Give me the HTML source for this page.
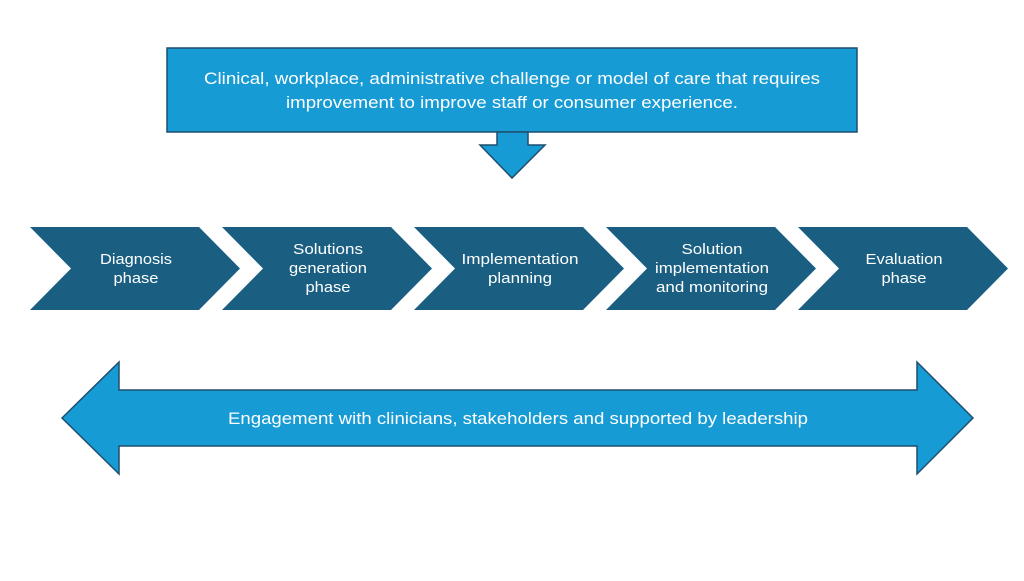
<!DOCTYPE html>
<html><head><style>
body{margin:0;width:1024px;height:576px;background:#fff;overflow:hidden}
svg text{font-family:"Liberation Sans",sans-serif;fill:#fff}
</style></head><body>
<svg width="1024" height="576" viewBox="0 0 1024 576">
<g fill="#169bd5" stroke="#1f4e6e" stroke-width="1.5">
<rect x="167" y="48" width="690" height="84"/>
<polygon points="497,132 528,132 528,145 545,145 512,178 480,145 497,145"/>
<polygon points="62,418 119,362 119,390 917,390 917,362 973,418 917,474 917,446 119,446 119,474"/>
</g>
<g fill="#1a5f82">
<polygon points="30,227 199,227 240,268.5 199,310 30,310 71,268.5"/>
<polygon points="222,227 391,227 432,268.5 391,310 222,310 263,268.5"/>
<polygon points="414,227 583,227 624,268.5 583,310 414,310 455,268.5"/>
<polygon points="606,227 775,227 816,268.5 775,310 606,310 647,268.5"/>
<polygon points="798,227 967,227 1008,268.5 967,310 798,310 839,268.5"/>
</g>
<g font-size="17" text-anchor="middle">
<text x="512" y="84" textLength="616" lengthAdjust="spacingAndGlyphs">Clinical, workplace, administrative challenge or model of care that requires</text>
<text x="512" y="108" textLength="452" lengthAdjust="spacingAndGlyphs">improvement to improve staff or consumer experience.</text>
<text x="518" y="424" textLength="580" lengthAdjust="spacingAndGlyphs">Engagement with clinicians, stakeholders and supported by leadership</text>
</g>
<g font-size="15" text-anchor="middle" lengthAdjust="spacingAndGlyphs">
<text x="136" y="264" textLength="72" lengthAdjust="spacingAndGlyphs">Diagnosis</text><text x="136" y="283" textLength="45" lengthAdjust="spacingAndGlyphs">phase</text>
<text x="328" y="254" textLength="70" lengthAdjust="spacingAndGlyphs">Solutions</text><text x="328" y="273" textLength="78" lengthAdjust="spacingAndGlyphs">generation</text><text x="328" y="292" textLength="45" lengthAdjust="spacingAndGlyphs">phase</text>
<text x="520" y="264" textLength="117" lengthAdjust="spacingAndGlyphs">Implementation</text><text x="520" y="283" textLength="64" lengthAdjust="spacingAndGlyphs">planning</text>
<text x="712" y="254" textLength="61" lengthAdjust="spacingAndGlyphs">Solution</text><text x="712" y="273" textLength="114" lengthAdjust="spacingAndGlyphs">implementation</text><text x="712" y="292" textLength="112" lengthAdjust="spacingAndGlyphs">and monitoring</text>
<text x="904" y="264" textLength="77" lengthAdjust="spacingAndGlyphs">Evaluation</text><text x="904" y="283" textLength="45" lengthAdjust="spacingAndGlyphs">phase</text>
</g>
</svg>
</body></html>
